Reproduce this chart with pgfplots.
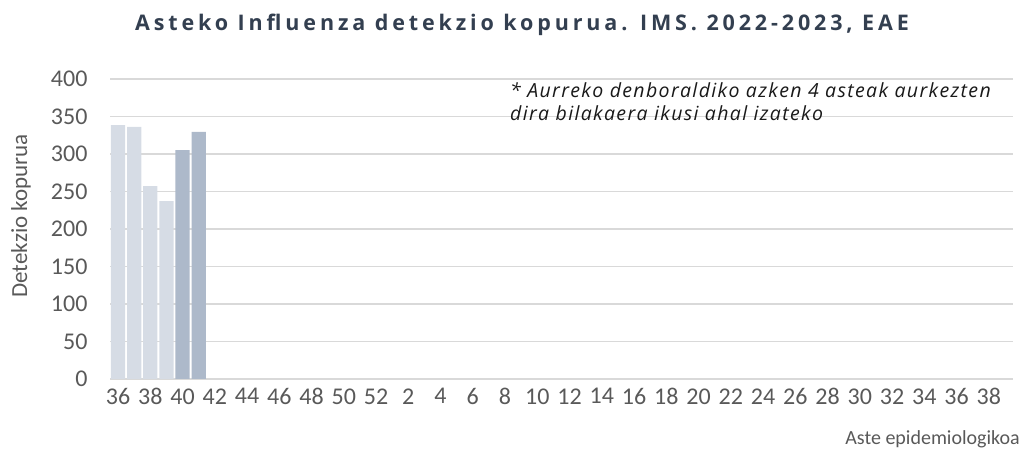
\documentclass[border=0pt]{standalone}
\usepackage{pgfplots}
\pgfplotsset{compat=1.18}
\usepackage{fontspec}
\setmainfont{Carlito}
\newfontfamily\opensans{Open Sans}
\definecolor{lightbar}{HTML}{D6DCE5}
\definecolor{darkbar}{HTML}{ADB9CA}
\definecolor{titlecol}{HTML}{333F50}
\definecolor{txt}{HTML}{595959}
\definecolor{gridc}{HTML}{D9D9D9}
\begin{document}
\begin{tikzpicture}
\useasboundingbox (0,0) rectangle (1025bp,456bp);
\begin{axis}[
  at={(110bp,77bp)}, anchor=south west,
  scale only axis, width=903bp, height=300bp,
  xmin=-0.5, xmax=55.5, ymin=0, ymax=400,
  ytick={0,50,...,400},
  xtick={0,2,...,54},
  xticklabels={36,38,40,42,44,46,48,50,52,2,4,6,8,10,12,14,16,18,20,22,24,26,28,30,32,34,36,38},
  axis line style={draw=none},
  major tick length=0pt,
  ymajorgrids, grid style={gridc, line width=1.2bp},
  ticklabel style={font=\fontsize{24bp}{28bp}\selectfont, text=txt},
  /pgf/number format/assume math mode=true,
  yticklabel style={xshift=-19bp},
  xticklabel style={yshift=-6bp},
  ybar, bar width=14.3bp,
  clip=false,
]
\draw[gridc, line width=1.2bp] (axis cs:-0.5,0) -- (axis cs:55.5,0);
\addplot[fill=lightbar, draw=none, bar shift=0pt] coordinates {(0,338.5) (1,336) (2,257) (3,237)};
\addplot[fill=darkbar, draw=none, bar shift=0pt] coordinates {(4,305) (5,329.5)};
\end{axis}
\node[anchor=base, inner sep=0pt, text=titlecol, font=\opensans\fontsize{21.5bp}{26bp}\selectfont\bfseries\addfontfeatures{LetterSpace=18}] at (522bp,425bp) {Asteko Influenza detekzio kopurua. IMS. 2022-2023, EAE};
\node[anchor=base west, align=left, inner sep=0pt, text=black!90, font=\opensans\fontsize{19.5bp}{23bp}\selectfont\itshape\addfontfeatures{LetterSpace=7}] at (510bp,335bp) {* Aurreko denboraldiko azken 4 asteak aurkezten\\dira bilakaera ikusi ahal izateko};
\node[rotate=90, anchor=center, text=txt, font=\fontsize{23bp}{27bp}\selectfont] at (21bp,240bp) {Detekzio kopurua};
\node[anchor=base east, inner sep=0pt, text=txt, font=\fontsize{20bp}{24bp}\selectfont] at (1020bp,12bp) {Aste epidemiologikoa};
\end{tikzpicture}
\end{document}
